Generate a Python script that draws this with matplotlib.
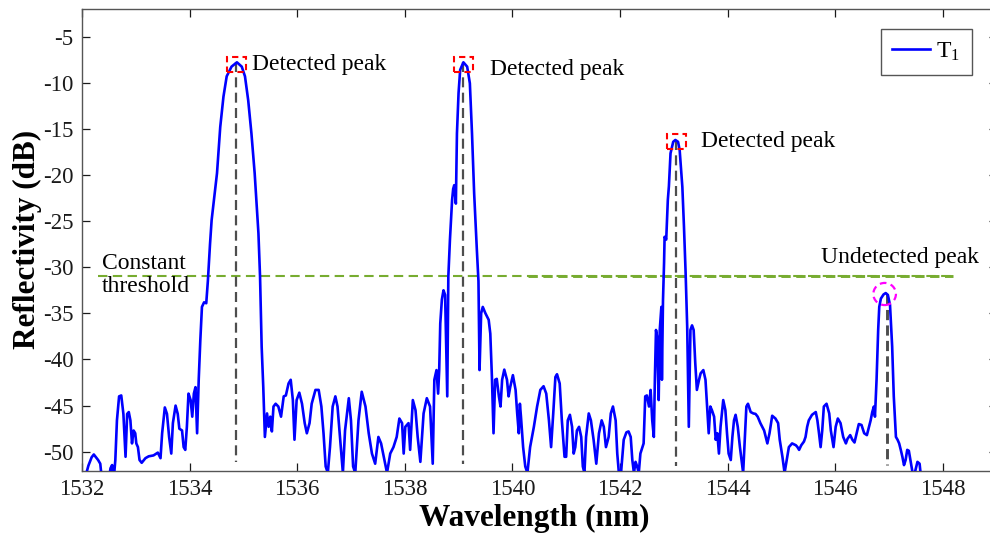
import numpy as np
import matplotlib
matplotlib.use("Agg")
import matplotlib.pyplot as plt
from matplotlib.patches import Rectangle, Ellipse

# Spectre de réflectivité T1
longueur_onde = [
    1532.05, 1532.12, 1532.18, 1532.22, 1532.26, 1532.30, 1532.34, 1532.37, 1532.50, 1532.53,
    1532.56, 1532.59, 1532.62, 1532.65, 1532.69, 1532.73, 1532.77, 1532.81, 1532.84, 1532.87,
    1532.90, 1532.93, 1532.96, 1532.99, 1533.01, 1533.04, 1533.07, 1533.11, 1533.18, 1533.24,
    1533.33, 1533.41, 1533.46, 1533.49, 1533.54, 1533.58, 1533.62, 1533.66, 1533.69, 1533.74,
    1533.78, 1533.81, 1533.86, 1533.89, 1533.92, 1533.95, 1533.98, 1534.02, 1534.05, 1534.08,
    1534.11, 1534.14, 1534.17, 1534.20, 1534.23, 1534.27, 1534.31, 1534.34, 1534.38, 1534.41,
    1534.46, 1534.51, 1534.57, 1534.63, 1534.69, 1534.78, 1534.88, 1534.97, 1535.03, 1535.09,
    1535.15, 1535.21, 1535.28, 1535.31, 1535.34, 1535.37, 1535.40, 1535.44, 1535.47, 1535.50,
    1535.53, 1535.56, 1535.60, 1535.65, 1535.70, 1535.75, 1535.79, 1535.84, 1535.88, 1535.92,
    1535.95, 1535.99, 1536.04, 1536.09, 1536.14, 1536.18, 1536.23, 1536.27, 1536.34, 1536.40,
    1536.45, 1536.49, 1536.53, 1536.57, 1536.61, 1536.66, 1536.71, 1536.75, 1536.80, 1536.85,
    1536.89, 1536.96, 1537.00, 1537.04, 1537.08, 1537.14, 1537.20, 1537.27, 1537.33, 1537.39,
    1537.45, 1537.51, 1537.56, 1537.61, 1537.67, 1537.73, 1537.79, 1537.85, 1537.90, 1537.95,
    1537.98, 1538.01, 1538.07, 1538.10, 1538.15, 1538.20, 1538.24, 1538.29, 1538.35, 1538.41,
    1538.47, 1538.52, 1538.55, 1538.59, 1538.62, 1538.64, 1538.66, 1538.69, 1538.72, 1538.75,
    1538.79, 1538.81, 1538.84, 1538.88, 1538.90, 1538.92, 1538.95, 1538.97, 1539.00, 1539.03,
    1539.09, 1539.16, 1539.21, 1539.25, 1539.29, 1539.34, 1539.37, 1539.39, 1539.42, 1539.45,
    1539.50, 1539.56, 1539.59, 1539.62, 1539.65, 1539.68, 1539.71, 1539.75, 1539.78, 1539.81,
    1539.85, 1539.90, 1539.93, 1539.96, 1540.01, 1540.06, 1540.09, 1540.12, 1540.14, 1540.16,
    1540.20, 1540.24, 1540.28, 1540.33, 1540.40, 1540.46, 1540.52, 1540.58, 1540.63, 1540.68,
    1540.72, 1540.76, 1540.80, 1540.83, 1540.88, 1540.92, 1540.97, 1541.00, 1541.03, 1541.07,
    1541.11, 1541.14, 1541.17, 1541.20, 1541.24, 1541.28, 1541.31, 1541.34, 1541.37, 1541.42,
    1541.46, 1541.51, 1541.56, 1541.61, 1541.66, 1541.70, 1541.74, 1541.79, 1541.83, 1541.87,
    1541.92, 1541.95, 1541.98, 1542.02, 1542.07, 1542.12, 1542.16, 1542.20, 1542.23, 1542.26,
    1542.29, 1542.32, 1542.35, 1542.38, 1542.41, 1542.44, 1542.47, 1542.50, 1542.54, 1542.57,
    1542.60, 1542.63, 1542.65, 1542.67, 1542.69, 1542.72, 1542.74, 1542.77, 1542.78, 1542.80,
    1542.82, 1542.83, 1542.86, 1542.89, 1542.91, 1542.94, 1542.99, 1543.03, 1543.08, 1543.11,
    1543.16, 1543.19, 1543.22, 1543.25, 1543.28, 1543.31, 1543.34, 1543.37, 1543.40, 1543.43,
    1543.47, 1543.50, 1543.55, 1543.59, 1543.62, 1543.65, 1543.68, 1543.71, 1543.75, 1543.78,
    1543.81, 1543.84, 1543.87, 1543.92, 1543.96, 1543.99, 1544.02, 1544.06, 1544.09, 1544.12,
    1544.15, 1544.19, 1544.23, 1544.26, 1544.29, 1544.32, 1544.35, 1544.38, 1544.43, 1544.48,
    1544.52, 1544.56, 1544.61, 1544.68, 1544.74, 1544.78, 1544.83, 1544.89, 1544.94, 1544.97,
    1545.02, 1545.06, 1545.10, 1545.14, 1545.20, 1545.27, 1545.30, 1545.33, 1545.37, 1545.42,
    1545.45, 1545.48, 1545.51, 1545.57, 1545.64, 1545.67, 1545.70, 1545.73, 1545.76, 1545.79,
    1545.84, 1545.89, 1545.92, 1545.97, 1546.01, 1546.05, 1546.10, 1546.15, 1546.20, 1546.23,
    1546.28, 1546.32, 1546.36, 1546.40, 1546.44, 1546.49, 1546.54, 1546.59, 1546.63, 1546.66,
    1546.69, 1546.72, 1546.74, 1546.77, 1546.80, 1546.82, 1546.85, 1546.90, 1546.94, 1546.98,
    1547.02, 1547.06, 1547.09, 1547.13, 1547.16, 1547.19, 1547.22, 1547.25, 1547.28, 1547.31,
    1547.34, 1547.37, 1547.40, 1547.44, 1547.48, 1547.53, 1547.57, 1547.60,
]
reflectividad = [
    -53.0, -51.5, -50.6, -50.3, -50.6, -50.9, -51.3, -53.0, -53.0, -51.8,
    -51.45, -53.0, -50.9, -46.6, -44.0, -43.9, -45.9, -50.55, -45.9, -45.7,
    -46.6, -49.1, -47.7, -48.0, -49.1, -49.5, -50.9, -51.2, -50.7, -50.5,
    -50.4, -50.1, -50.7, -48.0, -45.2, -45.9, -48.4, -50.2, -46.9, -45.0,
    -45.9, -47.5, -47.7, -49.5, -49.8, -47.3, -43.7, -44.4, -46.2, -43.7,
    -43.0, -48.0, -42.2, -37.9, -34.3, -33.8, -33.9, -31.5, -27.5, -24.9,
    -22.3, -19.8, -14.8, -11.5, -9.3, -8.25, -7.78, -8.25, -9.3, -11.9,
    -15.5, -19.8, -26.3, -31.0, -38.6, -43.0, -48.4, -45.85, -47.3, -46.2,
    -47.8, -45.1, -44.8, -45.1, -46.2, -44.0, -43.9, -42.6, -42.2, -44.4,
    -48.7, -44.4, -43.6, -44.8, -46.9, -48.0, -46.9, -44.8, -43.3, -43.3,
    -45.1, -48.0, -51.6, -52.3, -49.5, -45.1, -44.0, -45.1, -48.7, -52.3,
    -47.7, -44.2, -46.6, -51.6, -52.3, -46.6, -43.5, -45.1, -48.0, -50.2,
    -51.3, -48.4, -49.1, -50.55, -52.3, -50.2, -49.5, -48.4, -46.4, -46.9,
    -50.2, -47.3, -46.9, -49.8, -44.4, -45.5, -48.4, -51.1, -45.85, -44.2,
    -45.1, -51.3, -42.2, -41.15, -43.7, -41.2, -36.1, -33.5, -32.5, -33.0,
    -44.0, -31.0, -27.0, -22.7, -21.5, -21.1, -23.1, -15.5, -11.1, -8.6,
    -7.78, -8.25, -10.05, -15.5, -22.0, -28.1, -31.5, -41.15, -35.0, -34.3,
    -35.0, -35.7, -37.2, -41.9, -48.0, -42.2, -42.1, -44.0, -45.1, -42.2,
    -41.1, -42.2, -44.0, -43.0, -41.7, -43.3, -45.85, -48.0, -44.8, -46.2,
    -49.5, -51.6, -52.3, -49.5, -47.3, -45.1, -43.3, -42.9, -43.7, -46.6,
    -49.5, -45.85, -41.9, -41.6, -42.6, -46.6, -50.55, -50.55, -46.6, -46.0,
    -47.3, -50.2, -49.5, -47.7, -47.3, -48.4, -51.6, -52.3, -48.4, -45.85,
    -46.6, -48.7, -51.3, -48.0, -46.6, -47.3, -49.5, -48.4, -45.85, -45.1,
    -46.6, -50.2, -52.3, -52.3, -48.7, -47.9, -47.8, -48.4, -50.9, -52.3,
    -51.1, -51.6, -52.3, -50.2, -49.65, -49.1, -44.0, -43.9, -45.1, -43.3,
    -46.6, -48.4, -41.9, -36.8, -37.5, -44.4, -36.8, -34.3, -42.2, -33.6,
    -29.5, -26.7, -27.0, -22.7, -21.2, -17.65, -16.4, -16.2, -16.4, -17.3,
    -21.3, -25.6, -30.5, -36.45, -47.3, -36.8, -36.3, -36.8, -40.4, -43.3,
    -42.2, -41.5, -41.15, -42.2, -45.1, -48.0, -45.1, -45.5, -46.2, -48.7,
    -48.0, -50.2, -47.3, -44.4, -45.5, -48.0, -50.2, -50.9, -48.4, -46.6,
    -46.0, -47.3, -49.5, -50.9, -52.3, -48.7, -45.1, -44.8, -45.7, -45.85,
    -45.9, -46.2, -46.9, -47.7, -49.1, -48.0, -46.1, -46.4, -46.9, -48.7,
    -50.55, -52.3, -50.9, -49.5, -49.1, -49.3, -49.5, -49.8, -49.3, -48.9,
    -48.4, -47.3, -46.6, -46.0, -45.7, -46.6, -48.0, -49.5, -47.7, -45.1,
    -44.8, -45.85, -47.7, -49.5, -47.3, -46.4, -46.9, -48.4, -49.1, -48.6,
    -48.2, -48.7, -49.0, -48.0, -47.0, -47.1, -48.0, -48.2, -47.3, -46.6,
    -45.7, -45.1, -46.2, -42.2, -36.8, -34.3, -33.4, -32.95, -32.8, -33.0,
    -34.1, -38.6, -44.0, -48.4, -48.7, -49.1, -49.8, -50.55, -51.45, -50.9,
    -49.8, -49.9, -50.9, -52.3, -52.3, -51.1, -51.3, -53.0,
]

# Picos detectados (cuadros rojos) y pico no detectado (circulo magenta)
picos_x = [1534.87, 1539.09, 1543.05]
picos_y = [-7.8, -7.8, -16.2]
picos_base = [-51.1, -51.3, -51.6]
pico_nd_x = 1546.96
pico_nd_y = -32.85
pico_nd_base = -51.45
umbral = -31.0
umbral_x = [1532.3, 1548.2]

etiquetas = ["Detected peak", "Detected peak", "Detected peak"]
etiquetas_x = [1535.16, 1539.59, 1543.50]
etiquetas_y = [-8.0, -8.6, -16.4]

ticks_x = list(range(1532, 1549, 2))
ticks_y = list(range(-50, -4, 5))

plt.rcParams['font.family'] = ['Liberation Serif', 'DejaVu Serif']
plt.rcParams['mathtext.fontset'] = 'custom'
plt.rcParams['mathtext.rm'] = 'Liberation Serif'
plt.rcParams['mathtext.it'] = 'Liberation Serif'
plt.rcParams['axes.unicode_minus'] = False

fig = plt.figure(figsize=(9.9, 5.36), dpi=100)
ax = fig.add_axes([0.0828, 0.1218, 0.9238, 0.8614])

# Umbral constante
ax.plot(umbral_x, [umbral, umbral], color='#77AC30', lw=1.5, ls=(0, (4.5, 2.6)), zorder=2)
ax.plot([1540.3, umbral_x[1]], [umbral, umbral], color='#77AC30', lw=2.1, ls=(0, (3.2, 1.9)), zorder=2)

# Lineas verticales de los picos
for px, py, pb in zip(picos_x, picos_y, picos_base):
    ax.plot([px, px], [py, pb], color='#4d4d4d', lw=1.6, ls=(0, (4.5, 2.4)), zorder=3)
ax.plot([pico_nd_x, pico_nd_x], [pico_nd_y, pico_nd_base], color='#4d4d4d', lw=2.1,
        ls=(0, (3.5, 1.8)), zorder=3)

ax.plot(longueur_onde, reflectividad, color='#0000FF', lw=1.9, label='T$_1$', zorder=4)

for px, py in zip(picos_x, picos_y):
    ax.add_patch(Rectangle((px - 0.18, py - 1.0), 0.36, 1.6, fill=False, edgecolor='#FF0000',
                           lw=1.5, ls=(0, (3, 2)), zorder=5))
ax.add_patch(Ellipse((pico_nd_x - 0.04, pico_nd_y - 0.05), 0.42, 2.4, fill=False,
                     edgecolor='#FF00FF', lw=1.6, ls=(0, (3, 2)), zorder=5))

for t, tx, ty in zip(etiquetas, etiquetas_x, etiquetas_y):
    ax.text(tx, ty, t, fontsize=17, va='center', ha='left')
ax.text(1545.73, -28.9, 'Undetected peak', fontsize=17, va='center', ha='left')
ax.text(1532.37, -30.85, 'Constant\nthreshold', fontsize=17, va='center', ha='left',
        linespacing=1.15)

ax.set_xlim(1532, 1549)
ax.set_ylim(-52.06, -2)
ax.set_xticks(ticks_x)
ax.set_yticks(ticks_y)
ax.tick_params(direction='in', top=True, right=True, length=6, width=0.9,
               labelsize=16.5, colors='#1a1a1a', pad=6)
for s in ax.spines.values():
    s.set_color('#555555')
    s.set_linewidth(1.0)

ax.set_xlabel('Wavelength (nm)', fontsize=22.5, fontweight='bold')
ax.set_ylabel('Reflectivity (dB)', fontsize=22.5, fontweight='bold')
ax.xaxis.set_label_coords(0.495, -0.072)
ax.yaxis.set_label_coords(-0.044, 0.5)

leg = ax.legend(loc='upper right', bbox_to_anchor=(0.973, 0.957), fontsize=17,
                fancybox=False, framealpha=1, edgecolor='#555555', handlelength=1.6,
                handletextpad=0.25, borderpad=0.5, borderaxespad=0)
leg.get_frame().set_linewidth(1.0)

fig.savefig('out.png', dpi=100)
